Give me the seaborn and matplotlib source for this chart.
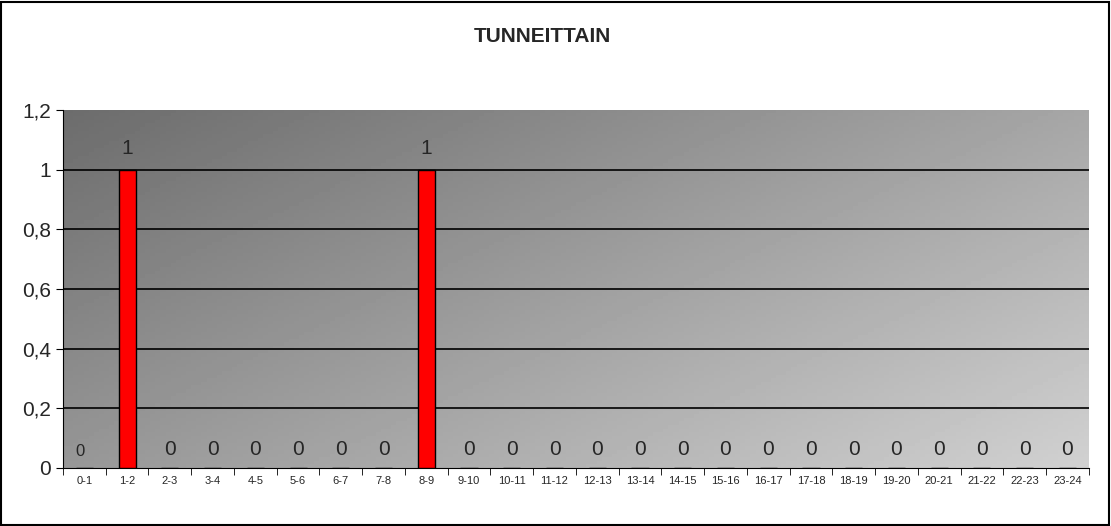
import numpy as np
import seaborn as sns
from matplotlib import pyplot as plt
from matplotlib.ticker import FixedLocator

hours = ['%d-%d' % (h, h + 1) for h in range(24)]
counts = [0, 1, 0, 0, 0, 0, 0, 0, 1] + [0] * 15
yticks = [0, 0.2, 0.4, 0.6, 0.8, 1.0, 1.2]
ylabels = ['0', '0,2', '0,4', '0,6', '0,8', '1', '1,2']

sns.set_style('white')
plt.rcParams['font.family'] = ['Liberation Sans', 'DejaVu Sans']

fig = plt.figure(figsize=(11.11, 5.26), dpi=100)
fig.patches.append(plt.Rectangle((0.001, 0.002), 0.997, 0.995, transform=fig.transFigure,
                                 fill=False, edgecolor='black', linewidth=1.5))
ax = fig.add_axes([0.0567, 0.1103, 0.9233, 0.6807])

# diagonal gray gradient background
gx, gy = np.meshgrid(np.linspace(0, 1, 200), np.linspace(0, 1, 100))
grad = (gx * 0.75 + gy * 0.55)
ax.imshow(grad, extent=[0, 1, 0, 1], transform=ax.transAxes, cmap='gray',
          vmin=-1.4, vmax=1.9, aspect='auto', zorder=0, origin='upper')

sns.barplot(x=hours, y=counts, color='#ff0000', edgecolor='black', linewidth=1,
            width=0.4, saturation=1, ax=ax, zorder=3)

ax.set_xlim(-0.5, 23.5)
ax.set_ylim(0, 1.2)
ax.set_yticks(yticks)
ax.set_yticklabels(ylabels, fontsize=15)
for y in yticks[1:-1]:
    ax.axhline(y, color='black', linewidth=1.2, zorder=2)

ax.tick_params(axis='x', which='major', length=0, labelsize=8, pad=6)
ax.xaxis.set_minor_locator(FixedLocator(np.arange(-0.5, 24, 1)))
ax.tick_params(axis='x', which='minor', length=5, color='black', direction='out', bottom=True)
ax.tick_params(axis='y', length=5, color='black', direction='out', left=True)
ax.set_xlabel('')
ax.set_ylabel('')

for i, v in enumerate(counts):
    size = 12 if i == 0 else 15
    off = 0.04 if v else 0.03
    ax.text(i if i else -0.1, v + off, str(v), ha='center', va='bottom', fontsize=size, zorder=4)

for s in ax.spines.values():
    s.set_visible(False)
ax.spines['left'].set_visible(True)
ax.spines['bottom'].set_visible(True)
ax.spines['left'].set_color('black')
ax.spines['bottom'].set_color('black')

fig.text(0.488, 0.93, 'TUNNEITTAIN', ha='center', va='center', fontsize=15, fontweight='bold')

fig.savefig('out.png', dpi=100)
